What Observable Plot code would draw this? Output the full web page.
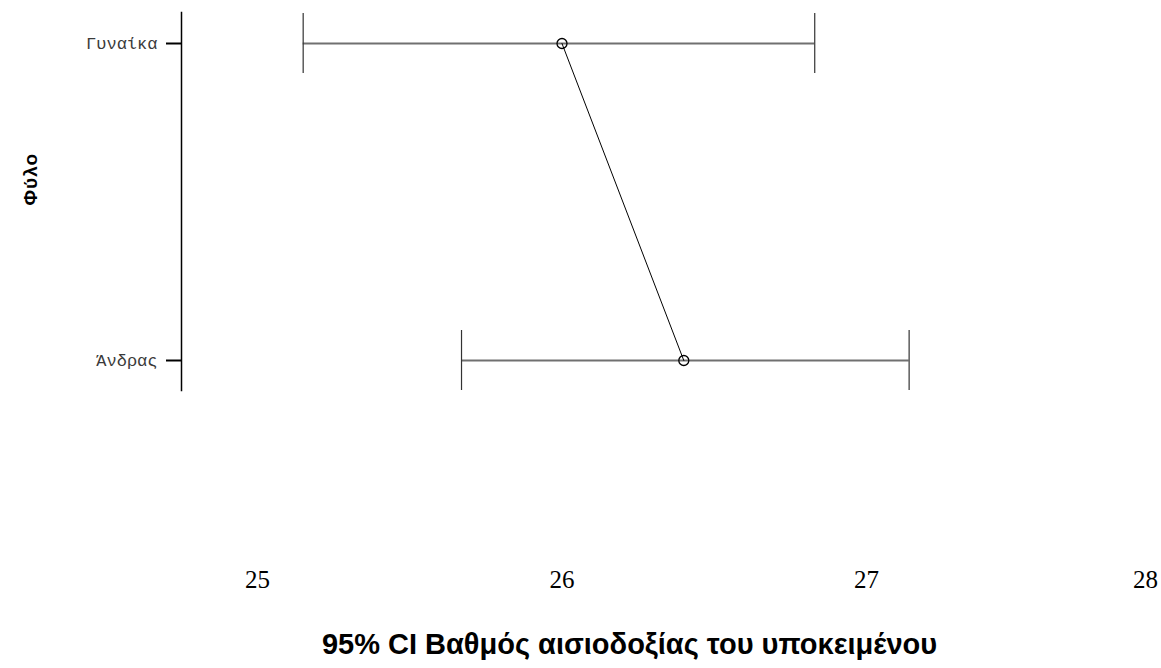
<!DOCTYPE html>
<html>
<head>
<meta charset="utf-8">
<script src="https://cdn.jsdelivr.net/npm/d3@7"></script>
<script src="https://cdn.jsdelivr.net/npm/@observablehq/plot@0.6"></script>
<style>
  html, body { margin: 0; padding: 0; background: #fff; }
  #chart svg { display: block; }
  .ytitle text { letter-spacing: 1px; }
</style>
</head>
<body>
<div id="chart"></div>
<script>
const categories = ["Γυναίκα", "Άνδρας"];
const means = [26.00, 26.40];
const lower = [25.15, 25.67];
const upper = [26.83, 27.14];
const xTicks = [25, 26, 27];
const xTicksEdge = [28];
const xTitle = "95% CI Βαθμός αισιοδοξίας του υποκειμένου";
const yTitle = "Φύλο";

const rows = categories.map((c, i) => ({cat: c, mean: means[i], lo: lower[i], hi: upper[i]}));

const chart = Plot.plot({
  width: 1161,
  height: 668,
  marginTop: 12,
  marginBottom: 278,
  marginLeft: 181,
  marginRight: 0,
  style: {background: "#fff", color: "#000"},
  x: {type: "linear", domain: [25, 28], range: [257, 1170.5], axis: null},
  y: {type: "band", domain: categories, range: [12, 390], paddingInner: 0.8113, paddingOuter: 0, axis: null, label: null},
  marks: [
    Plot.frame({anchor: "left", stroke: "#000", strokeWidth: 1.5}),
    Plot.axisY({anchor: "left", label: null, tickSize: 15, tickPadding: 9, strokeWidth: 2, stroke: "#000",
      fontFamily: "Liberation Mono", fontSize: 17, fill: "#3a3a3a"}),
    Plot.ruleY(rows, {y: "cat", x1: "lo", x2: "hi", stroke: "#707070", strokeWidth: 1.8}),
    Plot.tickX(rows, {x: "lo", y: "cat", stroke: "#333", strokeWidth: 1.2}),
    Plot.tickX(rows, {x: "hi", y: "cat", stroke: "#333", strokeWidth: 1.2}),
    Plot.line(rows, {x: "mean", y: "cat", stroke: "#000", strokeWidth: 1}),
    Plot.dot(rows, {x: "mean", y: "cat", r: 5, stroke: "#000", fill: "none", strokeWidth: 1.3}),
    Plot.text(xTicks, {x: d => d, text: d => String(d), frameAnchor: "bottom", dy: 197,
      fontFamily: "Liberation Serif", fontSize: 25, fill: "#000"}),
    Plot.text(xTicksEdge, {x: d => d, text: d => String(d), frameAnchor: "bottom", dy: 197, dx: -13,
      textAnchor: "end", fontFamily: "Liberation Serif", fontSize: 25, fill: "#000"}),
    Plot.text([xTitle], {text: d => d, frameAnchor: "bottom", dy: 263, dx: -42,
      fontFamily: "Liberation Sans", fontWeight: "bold", fontSize: 29, fill: "#000"}),
    Plot.text([yTitle], {text: d => d, frameAnchor: "left", dx: -151, dy: 4, rotate: -90,
      fontFamily: "Liberation Sans", fontWeight: "bold", fontSize: 19, fill: "#000", className: "ytitle"})
  ]
});
document.getElementById("chart").appendChild(chart);
</script>
</body>
</html>
